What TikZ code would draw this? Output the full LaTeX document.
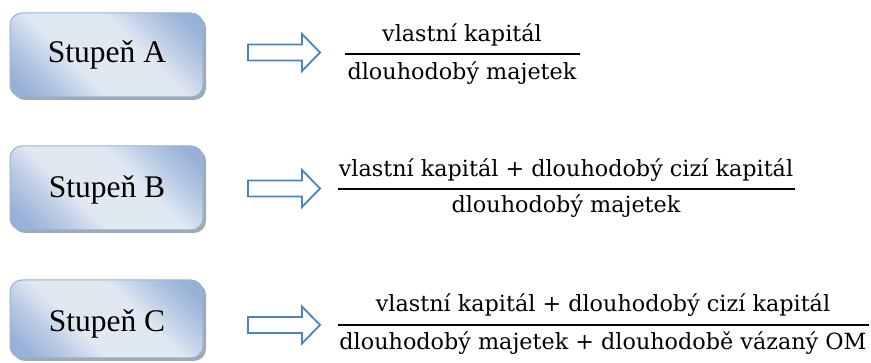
\documentclass[tikz,border=0pt]{standalone}
\usepackage{fontspec}
\setmainfont{Liberation Serif}
\newfontfamily\fracfont{DejaVu Serif}
\usetikzlibrary{shadings}
\definecolor{boxdark}{HTML}{97B1D7}
\definecolor{boxlight}{HTML}{E0E8F2}
\definecolor{boxedge}{HTML}{95B3D7}
\definecolor{arrowblue}{HTML}{4F81BD}
\definecolor{shadowgray}{HTML}{8C939C}
% diagonal gradient: dark towards two corners, wide light band between them
\pgfdeclareverticalshading{stagegrad}{100bp}{
  color(0bp)=(boxdark); color(20bp)=(boxdark); color(31bp)=(boxdark!50!boxlight);
  color(40bp)=(boxlight); color(60bp)=(boxlight); color(69bp)=(boxdark!50!boxlight);
  color(80bp)=(boxdark); color(100bp)=(boxdark)}
\tikzset{
  stagebox/.style={rounded corners=12pt, draw=boxedge, line width=1pt,
    shading=stagegrad, shading angle=-45},
  stageshadow/.style={rounded corners=12pt, fill=shadowgray, opacity=0.8},
  stagetext/.style={font=\fontsize{31.5}{36}\selectfont, anchor=base},
  blockarrow/.style={draw=arrowblue, fill=white, line width=1.8pt, line join=miter},
  fractext/.style={font=\fracfont\fontsize{22.3}{26}\selectfont, anchor=base, inner sep=0pt},
  fracbar/.style={line width=2pt}
}
\begin{document}
\begin{tikzpicture}[x=1pt, y=-1pt]
\useasboundingbox (0,0) rectangle (871,363);
% stage boxes with drop shadows
\foreach \t/\b/\lab/\base/\nm in {13/97/A/63/boxA, 146/230/B/198/boxB, 280/358/C/332/boxC}{
  \fill[stageshadow] (13,\t+3) rectangle (206,\b+3);
  \shade[stagebox] (10,\t) rectangle (203,\b);
  \node[stagetext] (\nm) at (107,\base) {Stupeň \lab};
}
% block arrows
\foreach \c/\nm in {52.5/arrA, 188.5/arrB, 325/arrC}{
  \draw[blockarrow] (248,\c-8) -- (302,\c-8) -- (302,\c-18.5) -- (320,\c)
     -- (302,\c+18.5) -- (302,\c+8) -- (248,\c+8) -- cycle;
  \coordinate (\nm) at (320,\c);
}
% fraction A
\node[fractext] (numA) at (462,42) {vlastní kapitál};
\draw[fracbar] (345,54.5) -- (580,54.5);
\node[fractext] (denA) at (462,80) {dlouhodobý majetek};
% fraction B
\node[fractext] (numB) at (566,177) {vlastní kapitál + dlouhodobý cizí kapitál};
\draw[fracbar] (338,189.5) -- (795,189.5);
\node[fractext] (denB) at (566,213) {dlouhodobý majetek};
% fraction C
\node[fractext] (numC) at (603,312) {vlastní kapitál + dlouhodobý cizí kapitál};
\draw[fracbar] (338,325.5) -- (869,325.5);
\node[fractext] (denC) at (603,350) {dlouhodobý majetek + dlouhodobě vázaný OM};
\end{tikzpicture}
\end{document}
